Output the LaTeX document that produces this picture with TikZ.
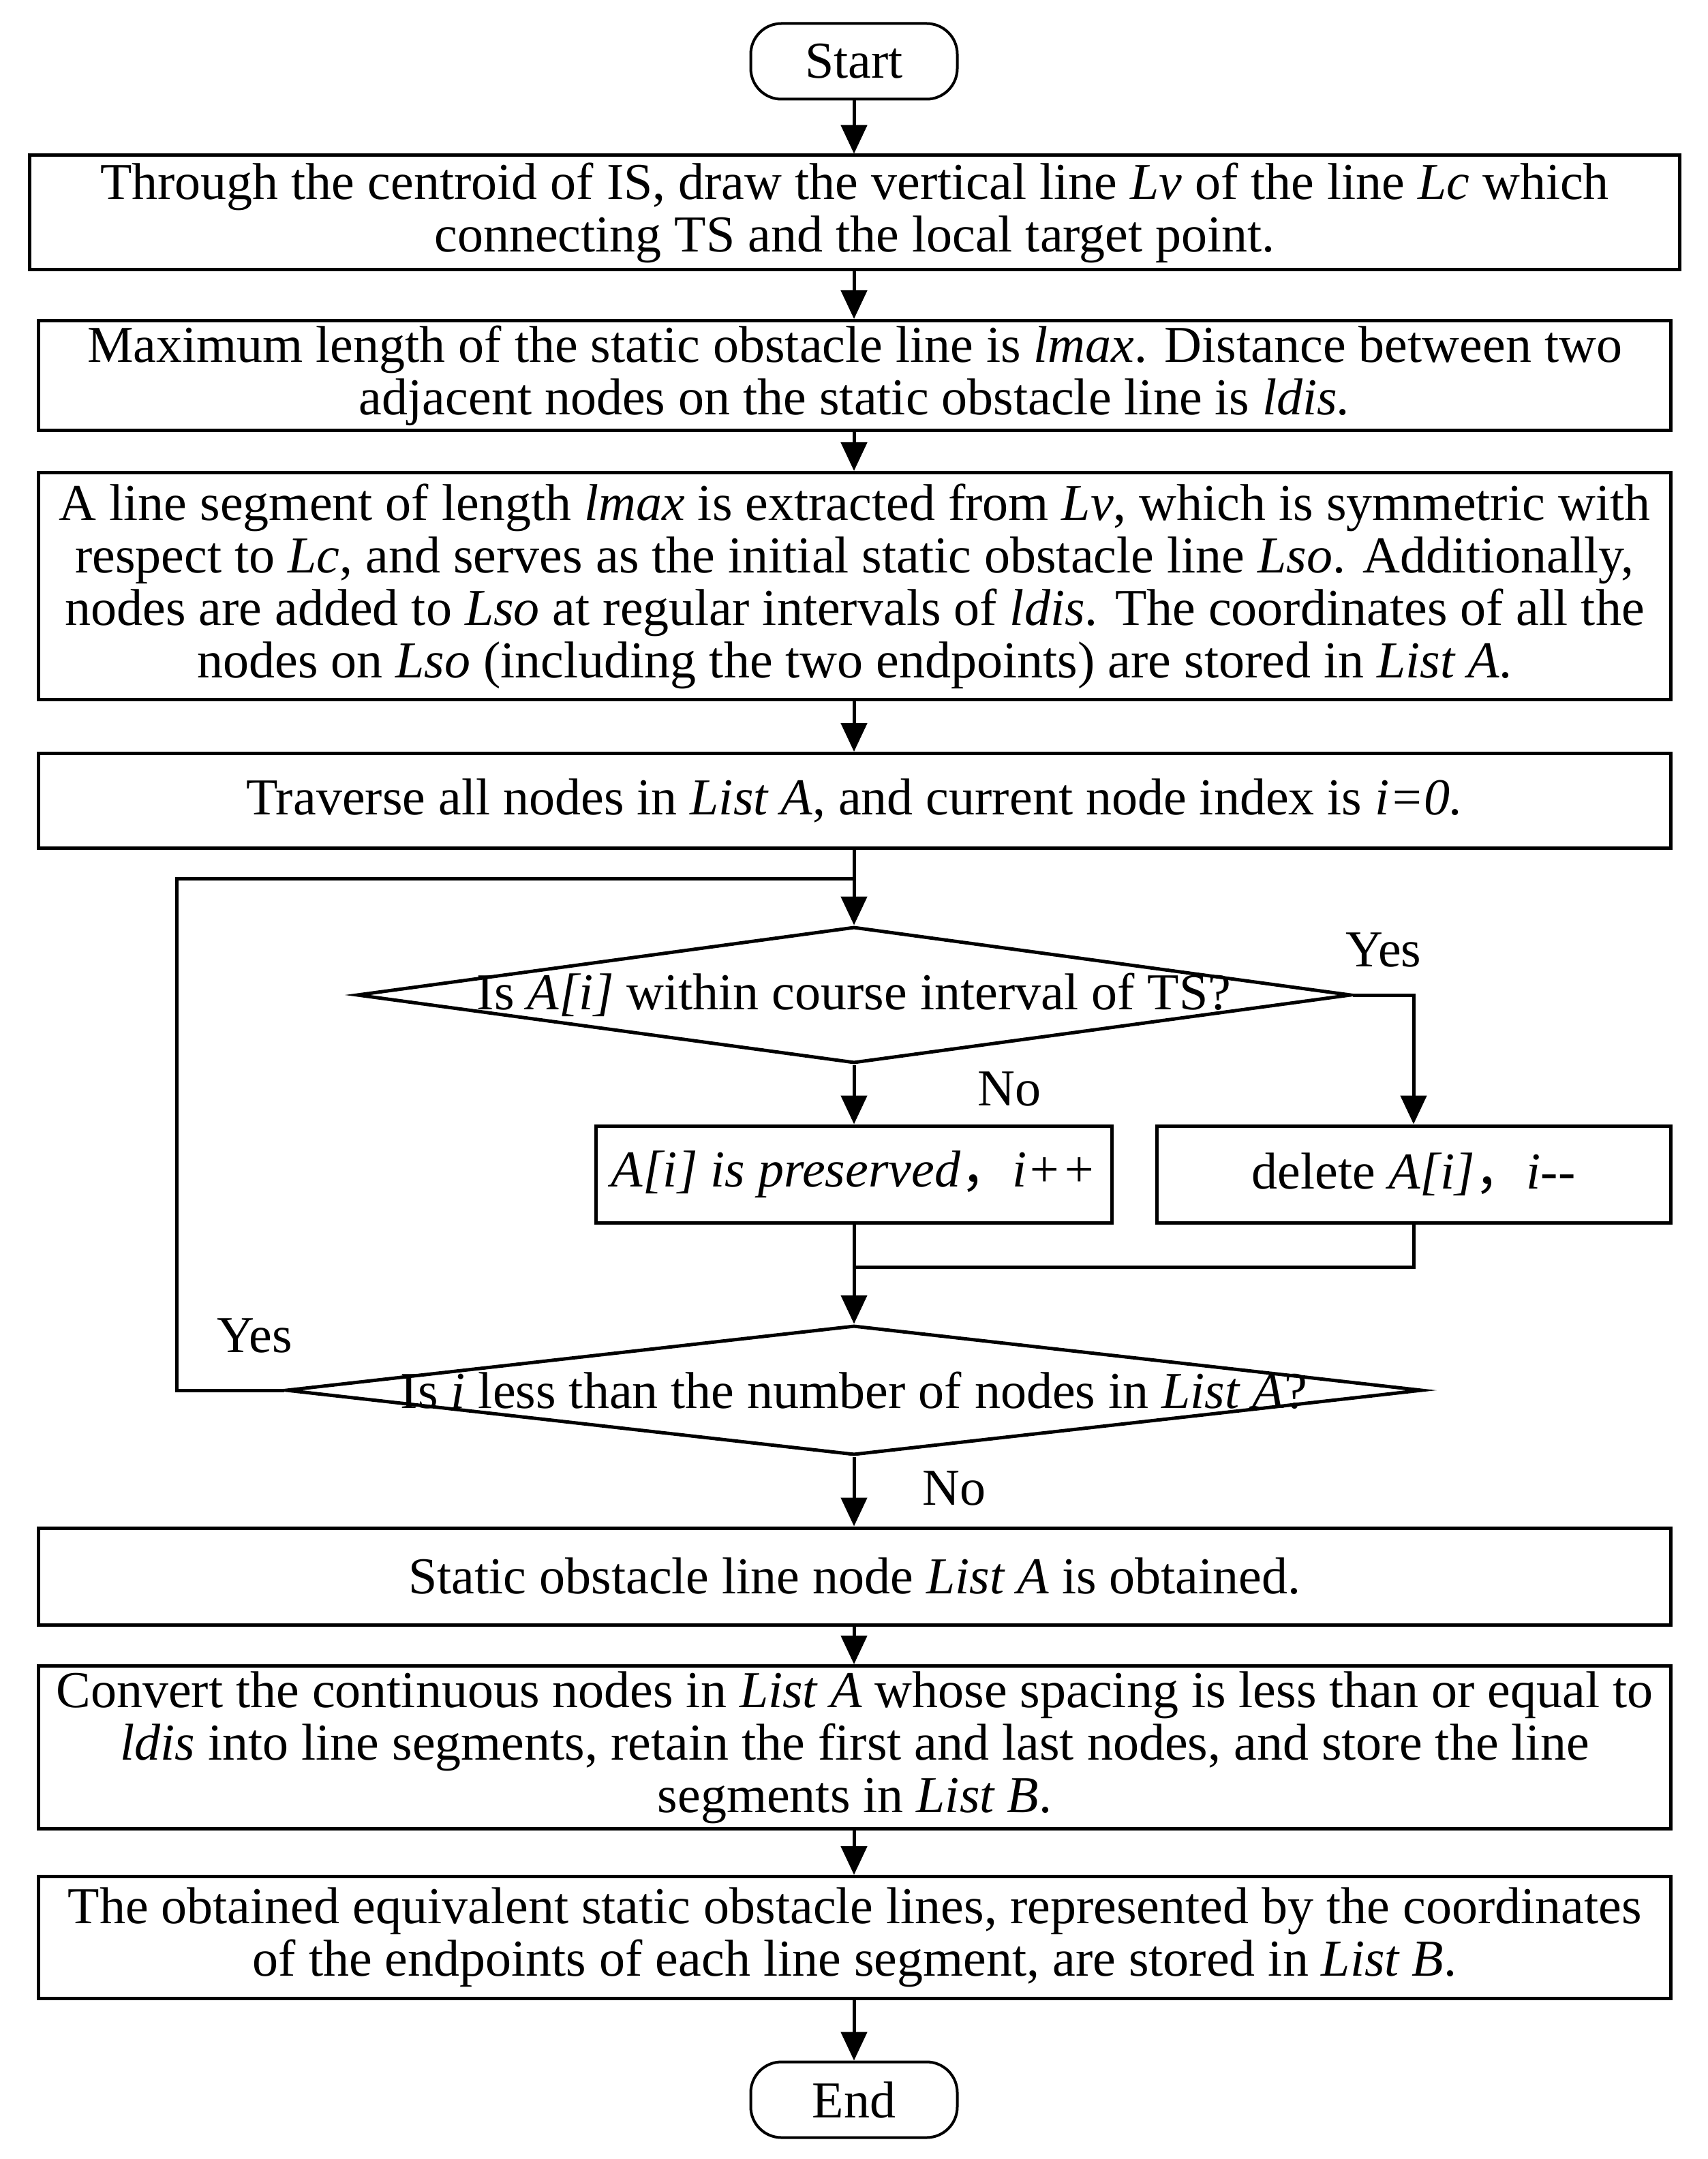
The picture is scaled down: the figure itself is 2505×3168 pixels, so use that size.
\documentclass[tikz,border=0pt]{standalone}
\usepackage{fontspec}
\setmainfont{Liberation Serif}
\newfontfamily\cjk{Noto Sans CJK SC}
\usetikzlibrary{arrows.meta,shapes.geometric}
\begin{document}
\begin{tikzpicture}[x=0.2pt,y=-0.2pt,
  font=\fontsize{15.2}{15.4}\selectfont,
  box/.style={draw,line width=1pt,align=center,inner sep=0pt,minimum width=478.8pt},
  term/.style={draw,line width=0.8pt,rounded corners=9pt,minimum width=60.6pt,minimum height=22.2pt,inner sep=0pt},
  dia/.style={draw,diamond,line width=1pt,inner sep=0pt},
  lbl/.style={inner sep=0pt},
  arr/.style={line width=1pt,-{Triangle[length=8.4pt,width=7.6pt]}},
  ln/.style={line width=1pt}]
\useasboundingbox (0,0) rectangle (2505,3168);
\node[term] (start) at (1253,90) {Start};
\node[box,minimum width=484.2pt,minimum height=33.6pt] (b1) at (1254,312) {Through the centroid of IS, draw the vertical line \textit{Lv} of the line \textit{Lc} which\\connecting TS and the local target point.};
\node[box,minimum height=32.2pt] (b2) at (1254,551) {Maximum length of the static obstacle line is \textit{lmax}. Distance between two\\adjacent nodes on the static obstacle line is \textit{ldis.}};
\node[box,minimum height=66.6pt] (b3) at (1254,860) {A line segment of length \textit{lmax} is extracted from \textit{Lv}, which is symmetric with\\respect to \textit{Lc}, and serves as the initial static obstacle line \textit{Lso}. Additionally,\\nodes are added to \textit{Lso} at regular intervals of \textit{ldis}. The coordinates of all the\\nodes on \textit{Lso} (including the two endpoints) are stored in \textit{List A}.};
\node[box,minimum height=27.8pt] (b4) at (1254,1175) {Traverse all nodes in \textit{List A}, and current node index is \textit{i=0.}};
\node[dia,minimum width=291.8pt,minimum height=40pt] (d1) at (1253,1460) {};
\node[lbl] (d1t) at (d1.center) {Is \textit{A[i]} within course interval of TS?};
\node[box,minimum width=151.4pt,minimum height=28.4pt] (b5) at (1253,1723) {\textit{A[i] is preserved}{\cjk ，}\textit{i++}};
\node[box,minimum width=150.8pt,minimum height=28.4pt] (b6) at (2074,1723) {delete \textit{A[i]}{\cjk ，}\textit{i{-}{-}}};
\node[dia,minimum width=333.4pt,minimum height=38pt] (d2) at (1253,2040) {};
\node[lbl] (d2t) at (d2.center) {Is \textit{i} less than the number of nodes in \textit{List A}?};
\node[box,minimum height=28.4pt] (b7) at (1254,2313) {Static obstacle line node \textit{List A} is obtained.};
\node[box,minimum height=47.8pt] (b8) at (1254,2564) {Convert the continuous nodes in \textit{List A} whose spacing is less than or equal to\\\textit{ldis} into line segments, retain the first and last nodes, and store the line\\segments in \textit{List B}.};
\node[box,minimum height=35.8pt] (b9) at (1254,2843) {The obtained equivalent static obstacle lines, represented by the coordinates\\of the endpoints of each line segment, are stored in \textit{List B}.};
\node[term] (end) at (1253,3081) {End};
\node[lbl] (yes1) at (2030,1394) {Yes};
\node[lbl] (no1) at (1481,1598) {No};
\node[lbl] (yes2) at (374,1960) {Yes};
\node[lbl] (no2) at (1400,2184) {No};
\coordinate (merge) at (1253,1859);
\coordinate (loopT) at (1253,1289);
\coordinate (loopL) at (259,2040);
\draw[arr] (start.south) -- (b1.north -| start.south);
\draw[arr] (b1.south -| start.south) -- (b2.north -| start.south);
\draw[arr] (b2.south -| start.south) -- (b3.north -| start.south);
\draw[arr] (b3.south -| start.south) -- (b4.north -| start.south);
\draw[arr] (b4.south -| start.south) -- (d1.north);
\draw[arr] (d1.south) -- (b5.north);
\draw[arr] (d1.east) -| (b6.north);
\draw[ln] (b5.south) -- (merge);
\draw[ln] (b6.south) |- (merge);
\draw[arr] (merge) -- (d2.north);
\draw[ln] (d2.west) -- (loopL) |- (loopT);
\draw[arr] (d2.south) -- (b7.north -| d2.south);
\draw[arr] (b7.south -| d2.south) -- (b8.north -| d2.south);
\draw[arr] (b8.south -| d2.south) -- (b9.north -| d2.south);
\draw[arr] (b9.south -| d2.south) -- (end.north);
\end{tikzpicture}
\end{document}
